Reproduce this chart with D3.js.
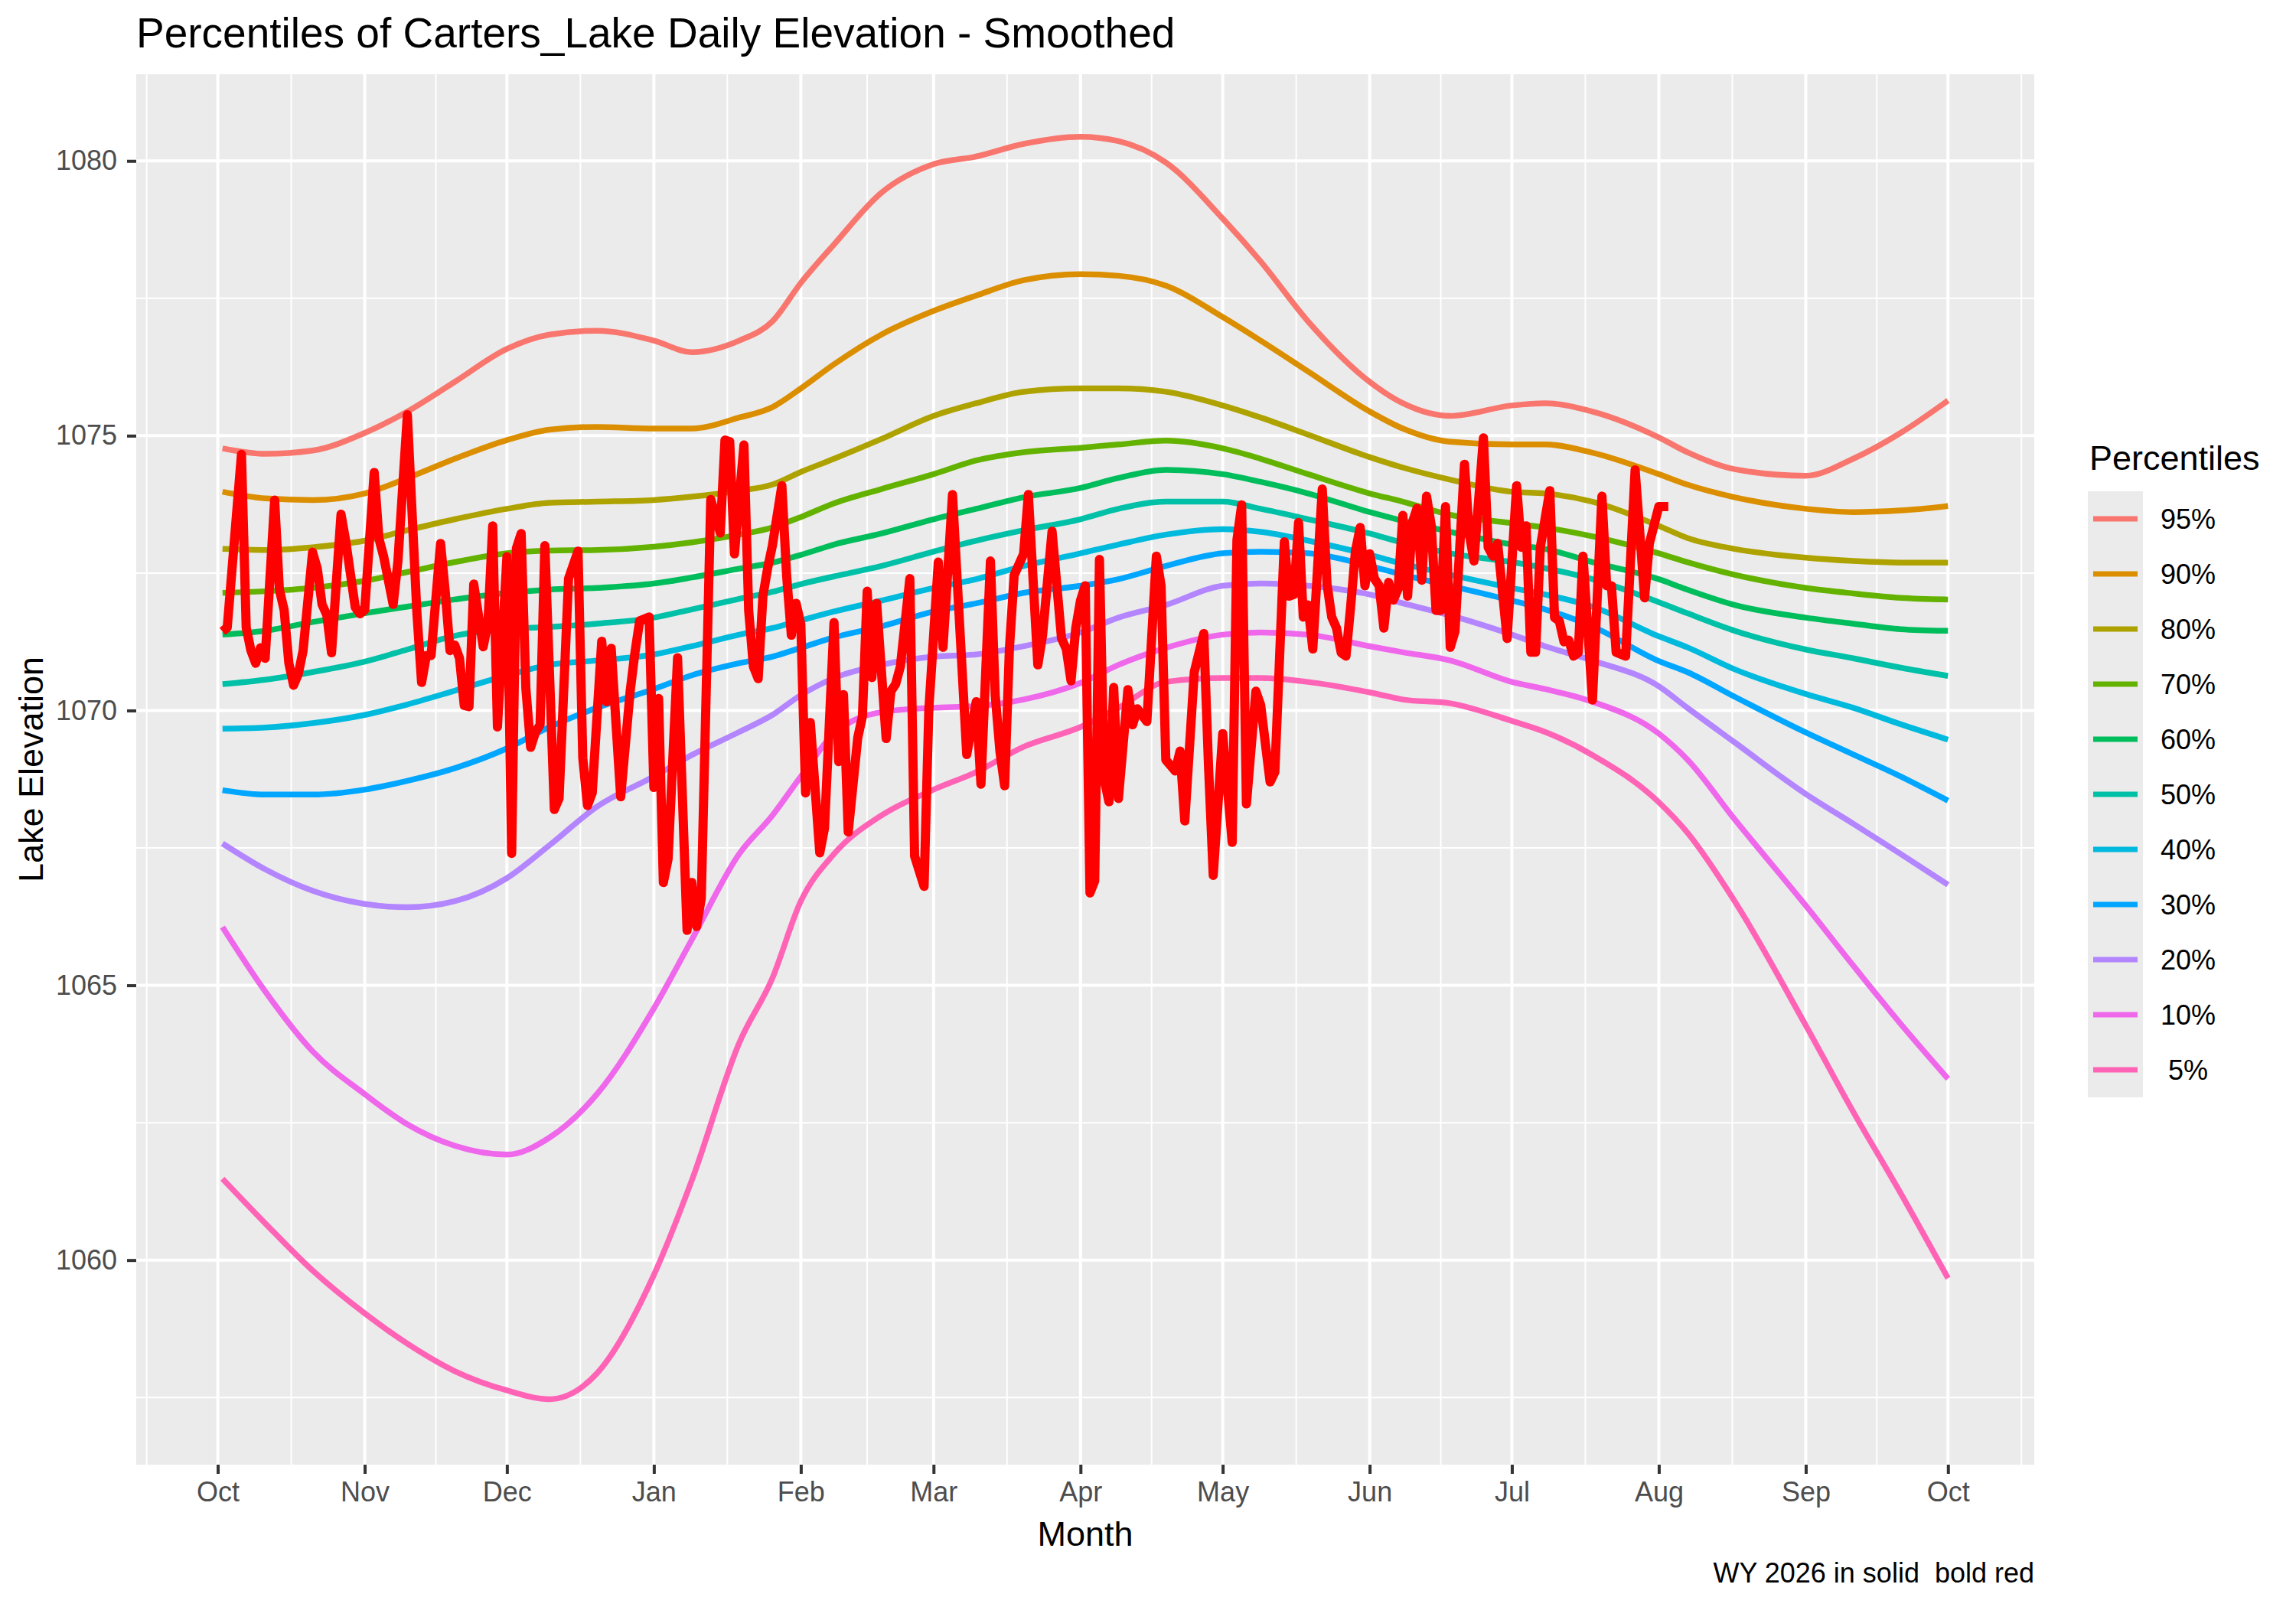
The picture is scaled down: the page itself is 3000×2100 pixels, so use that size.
<!DOCTYPE html>
<html>
<head>
<meta charset="utf-8">
<script src="https://cdn.jsdelivr.net/npm/d3@7"></script>
<style>
  body { margin: 0; background: #ffffff; }
  text { font-family: "Liberation Sans", Arial, Helvetica, sans-serif; }
</style>
</head>
<body>
<div id="chart"></div>
<script>
console.log("Carters_Lake percentiles");

// legend / series info
let pctLabels = ["95%", "90%", "80%", "70%", "60%", "50%", "40%", "30%", "20%", "10%", " 5%"];
let pctColors = ["#F8766D", "#DB8E00", "#AEA200", "#64B200", "#00BD5C", "#00C1A7",
                 "#00BADE", "#00A6FF", "#B385FF", "#EF67EB", "#FF63B6"];

// day of water year (0 = Oct 1 2025) for the smoothed percentile curves
let pctDays = [1, 10, 20, 31, 40, 50, 61, 70, 80, 92, 100, 110, 117, 123, 130, 140, 151, 160, 170, 182,
               190, 200, 212, 220, 230, 243, 250, 260, 273, 280, 290, 304, 310, 320, 335, 345, 355, 365];

let p95 = [1074.77, 1074.67, 1074.73, 1075.05, 1075.44, 1075.98, 1076.58, 1076.84, 1076.91, 1076.73, 1076.52, 1076.73, 1077.08, 1077.78, 1078.48, 1079.42, 1079.94, 1080.08, 1080.31, 1080.44,
           1080.36, 1079.97, 1078.95, 1078.17, 1077.08, 1075.98, 1075.59, 1075.36, 1075.55, 1075.59, 1075.44, 1074.97, 1074.70, 1074.39, 1074.27, 1074.58, 1075.05, 1075.64];
let p90 = [1073.98, 1073.86, 1073.83, 1073.95, 1074.23, 1074.58, 1074.92, 1075.11, 1075.16, 1075.13, 1075.13, 1075.33, 1075.52, 1075.86, 1076.30, 1076.84, 1077.27, 1077.55, 1077.83, 1077.94,
           1077.91, 1077.73, 1077.16, 1076.73, 1076.17, 1075.44, 1075.13, 1074.89, 1074.84, 1074.84, 1074.69, 1074.30, 1074.11, 1073.88, 1073.67, 1073.61, 1073.64, 1073.72];
let p80 = [1072.94, 1072.92, 1072.97, 1073.09, 1073.28, 1073.48, 1073.67, 1073.78, 1073.80, 1073.83, 1073.89, 1074.00, 1074.11, 1074.34, 1074.58, 1074.94, 1075.36, 1075.59, 1075.80, 1075.86,
           1075.86, 1075.80, 1075.55, 1075.33, 1075.02, 1074.61, 1074.42, 1074.20, 1073.98, 1073.95, 1073.80, 1073.36, 1073.14, 1072.94, 1072.78, 1072.72, 1072.69, 1072.69];
let p70 = [1072.14, 1072.17, 1072.23, 1072.36, 1072.52, 1072.70, 1072.86, 1072.91, 1072.92, 1072.98, 1073.06, 1073.20, 1073.33, 1073.52, 1073.77, 1074.03, 1074.30, 1074.55, 1074.70, 1074.78,
           1074.84, 1074.91, 1074.77, 1074.58, 1074.30, 1073.95, 1073.80, 1073.56, 1073.41, 1073.33, 1073.17, 1072.86, 1072.70, 1072.47, 1072.23, 1072.13, 1072.05, 1072.02];
let p60 = [1071.38, 1071.45, 1071.61, 1071.77, 1071.89, 1072.02, 1072.14, 1072.20, 1072.23, 1072.31, 1072.42, 1072.58, 1072.69, 1072.83, 1073.02, 1073.22, 1073.48, 1073.67, 1073.88, 1074.05,
           1074.23, 1074.38, 1074.30, 1074.16, 1073.95, 1073.61, 1073.45, 1073.25, 1073.02, 1072.94, 1072.70, 1072.39, 1072.20, 1071.92, 1071.69, 1071.58, 1071.48, 1071.45];
let p50 = [1070.48, 1070.56, 1070.70, 1070.89, 1071.11, 1071.36, 1071.48, 1071.52, 1071.58, 1071.69, 1071.84, 1072.03, 1072.16, 1072.30, 1072.44, 1072.63, 1072.89, 1073.09, 1073.28, 1073.48,
           1073.67, 1073.80, 1073.80, 1073.67, 1073.48, 1073.22, 1073.05, 1072.86, 1072.70, 1072.59, 1072.39, 1071.97, 1071.77, 1071.45, 1071.11, 1070.95, 1070.78, 1070.63];
let p40 = [1069.67, 1069.69, 1069.77, 1069.92, 1070.11, 1070.36, 1070.64, 1070.83, 1070.91, 1071.02, 1071.17, 1071.38, 1071.50, 1071.64, 1071.80, 1072.00, 1072.23, 1072.39, 1072.63, 1072.86,
           1073.02, 1073.20, 1073.30, 1073.25, 1073.09, 1072.83, 1072.67, 1072.47, 1072.23, 1072.11, 1071.89, 1071.35, 1071.15, 1070.75, 1070.30, 1070.05, 1069.75, 1069.47];
let p30 = [1068.55, 1068.47, 1068.47, 1068.56, 1068.72, 1068.95, 1069.31, 1069.70, 1070.05, 1070.39, 1070.64, 1070.86, 1070.98, 1071.14, 1071.33, 1071.53, 1071.80, 1071.95, 1072.14, 1072.27,
           1072.39, 1072.63, 1072.86, 1072.89, 1072.86, 1072.63, 1072.47, 1072.27, 1072.00, 1071.84, 1071.53, 1070.90, 1070.70, 1070.25, 1069.60, 1069.20, 1068.80, 1068.36];
let p20 = [1067.58, 1067.11, 1066.72, 1066.48, 1066.42, 1066.53, 1066.95, 1067.55, 1068.25, 1068.80, 1069.19, 1069.61, 1069.92, 1070.28, 1070.59, 1070.83, 1070.98, 1071.02, 1071.17, 1071.42,
           1071.69, 1071.92, 1072.27, 1072.31, 1072.27, 1072.11, 1071.95, 1071.73, 1071.38, 1071.17, 1070.91, 1070.44, 1070.05, 1069.42, 1068.48, 1067.94, 1067.39, 1066.83];
let p10 = [1066.06, 1064.89, 1063.80, 1063.02, 1062.47, 1062.08, 1061.92, 1062.23, 1063.02, 1064.58, 1065.83, 1067.39, 1068.09, 1068.80, 1069.58, 1069.97, 1070.05, 1070.08, 1070.20, 1070.50,
           1070.83, 1071.14, 1071.38, 1071.42, 1071.38, 1071.17, 1071.06, 1070.91, 1070.52, 1070.39, 1070.16, 1069.58, 1069.11, 1068.02, 1066.45, 1065.36, 1064.30, 1063.30];
let p5  = [1061.48, 1060.67, 1059.81, 1059.03, 1058.48, 1057.98, 1057.63, 1057.47, 1057.94, 1059.73, 1061.45, 1063.95, 1065.13, 1066.53, 1067.39, 1068.09, 1068.56, 1068.88, 1069.34, 1069.70,
           1070.05, 1070.52, 1070.59, 1070.59, 1070.52, 1070.33, 1070.20, 1070.13, 1069.81, 1069.61, 1069.19, 1068.33, 1067.78, 1066.53, 1064.27, 1062.70, 1061.22, 1059.67];

let pctSeries = [p95, p90, p80, p70, p60, p50, p40, p30, p20, p10, p5];

// WY 2026 daily elevation (day of water year, elevation)
let wyDays = [1, 2, 5, 6, 7, 8, 9, 10, 12, 13, 14, 15, 16, 17, 18, 20, 21, 22, 23, 24, 26, 27, 29, 30, 31, 33, 34, 35, 37, 38,
              40, 42, 43, 44, 45, 47, 48, 49, 50, 51, 52, 53, 54, 56, 57, 58, 59, 61, 62, 63, 64, 65, 66, 67, 68, 69, 70, 71, 72, 74,
              76, 77, 78, 79, 81, 82, 83, 85, 87, 88, 89, 91, 92, 93, 94, 95, 97, 99, 100, 101, 102, 104, 106, 107, 108, 109, 111, 112, 113, 114,
              115, 116, 117, 119, 120, 121, 122, 123, 124, 125, 127, 128, 130, 131, 132, 133, 135, 136, 137, 138, 139, 141, 142, 143, 144, 146, 147, 149, 150, 152,
              153, 155, 158, 160, 161, 163, 164, 165, 166, 167, 168, 170, 171, 173, 174, 176, 178, 179, 180, 181, 182, 183, 184, 185, 186, 187, 188, 189, 190, 192,
              193, 194, 196, 198, 199, 200, 202, 203, 204, 206, 208, 209, 210, 212, 214, 215, 216, 217, 219, 220, 222, 223, 225, 226, 227, 228, 229, 230, 231, 233,
              234, 235, 236, 237, 238, 239, 240, 241, 242, 243, 244, 245, 246, 247, 248, 249, 250, 251, 252, 253, 254, 255, 256, 257, 258, 259, 260, 261, 263, 264,
              265, 267, 268, 269, 270, 272, 274, 275, 276, 277, 278, 279, 281, 282, 283, 284, 285, 286, 287, 288, 290, 292, 293, 294, 295, 297, 299, 301, 302, 304, 306];
let wyElev = [1071.44, 1071.51, 1074.66, 1071.51, 1071.09, 1070.86, 1071.14, 1070.95, 1073.83, 1072.20, 1071.83, 1070.86, 1070.46, 1070.67, 1071.09, 1072.88, 1072.58, 1071.93, 1071.74, 1071.05, 1073.57, 1073.08, 1071.88, 1071.76, 1071.83, 1074.33, 1073.13, 1072.80, 1071.93, 1072.71,
              1075.38, 1071.79, 1070.51, 1071.00, 1071.00, 1073.04, 1072.15, 1071.09, 1071.19, 1070.95, 1070.09, 1070.07, 1072.30, 1071.16, 1071.60, 1073.36, 1069.70, 1072.80, 1067.40, 1072.95, 1073.22, 1070.40, 1069.33, 1069.60, 1069.74, 1073.00, 1070.63, 1068.20, 1068.40, 1072.40,
              1072.90, 1069.14, 1068.27, 1068.50, 1071.26, 1070.16, 1071.13, 1068.43, 1070.35, 1071.05, 1071.63, 1071.70, 1068.60, 1070.22, 1066.87, 1067.30, 1070.96, 1066.00, 1066.87, 1066.07, 1066.58, 1073.84, 1073.23, 1074.92, 1074.89, 1072.85, 1074.83, 1071.82, 1070.80, 1070.58,
              1072.08, 1072.59, 1073.00, 1074.09, 1072.46, 1071.37, 1071.95, 1071.57, 1068.50, 1069.78, 1067.41, 1067.86, 1071.60, 1069.07, 1070.29, 1067.79, 1069.50, 1069.90, 1072.17, 1070.60, 1071.95, 1069.49, 1070.35, 1070.48, 1070.80, 1072.40, 1067.35, 1066.80, 1070.00, 1072.70,
              1071.15, 1073.93, 1069.20, 1070.16, 1068.66, 1072.72, 1070.29, 1069.26, 1068.63, 1071.12, 1072.46, 1072.85, 1073.93, 1070.83, 1071.37, 1073.26, 1071.31, 1071.12, 1070.54, 1071.50, 1072.00, 1072.27, 1066.68, 1066.90, 1072.75, 1068.75, 1068.34, 1070.42, 1068.40, 1070.38,
              1069.74, 1070.03, 1069.80, 1072.81, 1072.27, 1069.10, 1068.90, 1069.26, 1067.99, 1070.70, 1071.40, 1069.00, 1067.00, 1069.58, 1067.60, 1073.10, 1073.74, 1068.30, 1070.35, 1070.10, 1068.70, 1068.88, 1073.07, 1072.08, 1072.11, 1073.42, 1071.70, 1071.92, 1071.12, 1074.03,
              1072.30, 1071.70, 1071.50, 1071.05, 1070.99, 1071.90, 1072.90, 1073.33, 1072.27, 1072.85, 1072.40, 1072.27, 1071.50, 1072.33, 1072.01, 1072.21, 1073.55, 1072.08, 1073.42, 1073.68, 1072.37, 1073.90, 1073.36, 1071.82, 1071.82, 1073.71, 1071.15, 1071.44, 1074.48, 1073.23,
              1072.72, 1074.96, 1072.97, 1072.81, 1073.04, 1071.31, 1074.09, 1072.97, 1073.36, 1071.06, 1071.06, 1072.97, 1074.00, 1071.69, 1071.63, 1071.25, 1071.28, 1070.99, 1071.05, 1072.81, 1070.19, 1073.90, 1072.27, 1072.27, 1071.06, 1070.99, 1074.38, 1072.05, 1073.04, 1073.71, 1073.71];

let yTicks = [1060, 1065, 1070, 1075, 1080];
let yMinor = [1057.5, 1062.5, 1067.5, 1072.5, 1077.5];

const W = 3000, H = 2100;
const panel = { left: 178, right: 2658, top: 97, bottom: 1914 };
const wyStart = Date.UTC(2025, 9, 1);
const dayToDate = d => new Date(wyStart + d * 864e5);

let x = d3.scaleUtc()
    .domain([dayToDate(1 - 18.2), dayToDate(365 + 18.2)])
    .range([panel.left, panel.right]);
let y = d3.scaleLinear()
    .domain([1056.278, 1081.577])
    .range([panel.bottom, panel.top]);

let svg = d3.select("#chart").append("svg")
    .attr("width", W)
    .attr("height", H)
    .attr("xmlns", "http://www.w3.org/2000/svg");

svg.append("rect").attr("width", W).attr("height", H).attr("fill", "#ffffff");

// panel background
svg.append("rect")
    .attr("x", panel.left).attr("y", panel.top)
    .attr("width", panel.right - panel.left)
    .attr("height", panel.bottom - panel.top)
    .attr("fill", "#EBEBEB");

// month breaks and minor breaks half way between them
let monthTicks = d3.utcMonth.range(dayToDate(0), dayToDate(366));
let monthAll = d3.utcMonth.range(new Date(Date.UTC(2025, 8, 1)), new Date(Date.UTC(2026, 11, 1)));
let xMinor = d3.pairs(monthAll)
    .map(([a, b]) => new Date((+a + +b) / 2))
    .filter(d => x(d) > panel.left && x(d) < panel.right);

let grid = svg.append("g").attr("stroke", "#ffffff");

grid.selectAll(".hminor").data(yMinor).join("line")
    .attr("x1", panel.left).attr("x2", panel.right)
    .attr("y1", d => y(d)).attr("y2", d => y(d))
    .attr("stroke-width", 2);
grid.selectAll(".vminor").data(xMinor).join("line")
    .attr("x1", d => x(d)).attr("x2", d => x(d))
    .attr("y1", panel.top).attr("y2", panel.bottom)
    .attr("stroke-width", 2);
grid.selectAll(".hmajor").data(yTicks).join("line")
    .attr("x1", panel.left).attr("x2", panel.right)
    .attr("y1", d => y(d)).attr("y2", d => y(d))
    .attr("stroke-width", 4);
grid.selectAll(".vmajor").data(monthTicks).join("line")
    .attr("x1", d => x(d)).attr("x2", d => x(d))
    .attr("y1", panel.top).attr("y2", panel.bottom)
    .attr("stroke-width", 4);

// percentile curves
let line = d3.line()
    .x(d => x(dayToDate(d[0])))
    .y(d => y(d[1]))
    .curve(d3.curveMonotoneX);

let plot = svg.append("g");

pctSeries.forEach((vals, i) => {
    let pts = pctDays.map((d, j) => [d, vals[j]]);
    plot.append("path")
        .datum(pts)
        .attr("d", line)
        .attr("fill", "none")
        .attr("stroke", pctColors[i])
        .attr("stroke-width", 7.5)
        .attr("stroke-linejoin", "round");
});

// this year's elevations
let wyLine = d3.line()
    .x(d => x(dayToDate(d[0])))
    .y(d => y(d[1]));

plot.append("path")
    .datum(wyDays.map((d, j) => [d, wyElev[j]]))
    .attr("d", wyLine)
    .attr("fill", "none")
    .attr("stroke", "#FF0000")
    .attr("stroke-width", 12)
    .attr("stroke-linejoin", "round");

// axes
let xAxis = svg.append("g")
    .attr("transform", `translate(0,${panel.bottom})`)
    .call(d3.axisBottom(x)
        .tickValues(monthTicks)
        .tickFormat(d3.utcFormat("%b"))
        .tickSize(12)
        .tickPadding(10.5));

let yAxis = svg.append("g")
    .attr("transform", `translate(${panel.left},0)`)
    .call(d3.axisLeft(y)
        .tickValues(yTicks)
        .tickFormat(d3.format("d"))
        .tickSize(12)
        .tickPadding(13));

[xAxis, yAxis].forEach(ax => {
    ax.select(".domain").remove();
    ax.selectAll(".tick line").attr("stroke", "#333333").attr("stroke-width", 4);
    ax.selectAll(".tick text")
        .attr("fill", "#4D4D4D")
        .style("font-size", "36px")
        .style("font-family", "'Liberation Sans', Arial, sans-serif");
});

// titles
svg.append("text")
    .attr("x", panel.left).attr("y", 62)
    .style("font-size", "55px")
    .attr("fill", "#000000")
    .text("Percentiles of Carters_Lake Daily Elevation - Smoothed");

svg.append("text")
    .attr("x", (panel.left + panel.right) / 2).attr("y", 2020)
    .attr("text-anchor", "middle")
    .style("font-size", "45px")
    .text("Month");

svg.append("text")
    .attr("transform", `translate(56,${(panel.top + panel.bottom) / 2}) rotate(-90)`)
    .attr("text-anchor", "middle")
    .style("font-size", "45px")
    .text("Lake Elevation");

svg.append("text")
    .attr("x", panel.right).attr("y", 2068)
    .attr("text-anchor", "end")
    .style("font-size", "36px")
    .style("white-space", "pre")
    .attr("xml:space", "preserve")
    .text("WY 2026 in solid  bold red");

// legend
let legend = svg.append("g").attr("transform", "translate(2728,642)");
legend.append("text")
    .attr("x", 2).attr("y", -28)
    .style("font-size", "45px")
    .text("Percentiles");

let keyH = 72;
let keys = legend.selectAll(".key").data(pctLabels).join("g")
    .attr("transform", (d, i) => `translate(0,${i * keyH})`);
keys.append("rect")
    .attr("width", 72).attr("height", keyH)
    .attr("fill", "#EBEBEB");
keys.append("line")
    .attr("x1", 7).attr("x2", 65)
    .attr("y1", keyH / 2).attr("y2", keyH / 2)
    .attr("stroke", (d, i) => pctColors[i])
    .attr("stroke-width", 7);
keys.append("text")
    .attr("x", 95).attr("y", keyH / 2)
    .attr("dy", "0.35em")
    .style("font-size", "36px")
    .style("white-space", "pre")
    .attr("xml:space", "preserve")
    .text(d => d);
</script>
</body>
</html>
